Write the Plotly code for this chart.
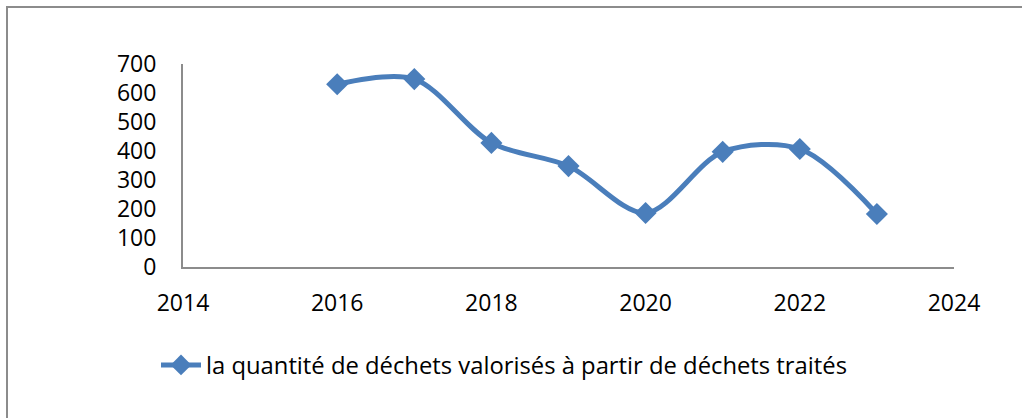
import plotly.graph_objects as go

years = [2016, 2017, 2018, 2019, 2020, 2021, 2022, 2023]
values = [630, 648, 428, 348, 186, 397, 407, 183]
series_name = "la quantité de déchets valorisés à partir de déchets traités"
x_ticks = [2014, 2016, 2018, 2020, 2022, 2024]
y_ticks = [0, 100, 200, 300, 400, 500, 600, 700]

BLUE = "#4a7ebb"
GREY = "#8c8c8c"
FONT = "Open Sans"

W, H = 1022, 418
L, T = 183, 64
pw, ph = 771, 203
R = W - L - pw
B = H - T - ph

fig = go.Figure()
fig.add_trace(go.Scatter(
    x=years, y=values, name=series_name,
    mode="lines+markers",
    line=dict(color=BLUE, width=5, shape="spline", smoothing=0.9),
    marker=dict(symbol="diamond", size=17, color=BLUE),
))

def px_x(p):
    return (p - L) / pw

def px_y(p):
    return (T + ph - p) / ph

fig.add_shape(type="rect", xref="paper", yref="paper",
              x0=px_x(7), x1=px_x(1040), y0=px_y(440), y1=px_y(7),
              line=dict(color=GREY, width=2), fillcolor="rgba(0,0,0,0)", layer="below")

fig.update_layout(
    width=W, height=H,
    margin=dict(l=L, r=R, t=T, b=B),
    paper_bgcolor="white", plot_bgcolor="white",
    font=dict(family=FONT, size=23, color="black"),
    showlegend=True,
    legend=dict(orientation="h", x=px_x(156), xanchor="left",
                y=px_y(365), yanchor="middle",
                font=dict(family=FONT, size=23.8, color="black"),
                bgcolor="rgba(0,0,0,0)", itemwidth=40),
    xaxis=dict(range=[2014, 2024], tickvals=x_ticks, ticktext=[str(v) for v in x_ticks],
               showgrid=False, zeroline=False, showline=True, linecolor=GREY, linewidth=2,
               ticks="", ticklabelstandoff=14),
    yaxis=dict(range=[0, 700], tickvals=y_ticks, ticktext=[str(v) for v in y_ticks],
               showgrid=False, zeroline=False, showline=True, linecolor=GREY, linewidth=2,
               ticks="", ticklabelstandoff=20),
)

fig.write_html("out.html",
               config={"displayModeBar": False},
               post_script="document.body.style.margin='0';document.body.style.overflow='hidden';")
